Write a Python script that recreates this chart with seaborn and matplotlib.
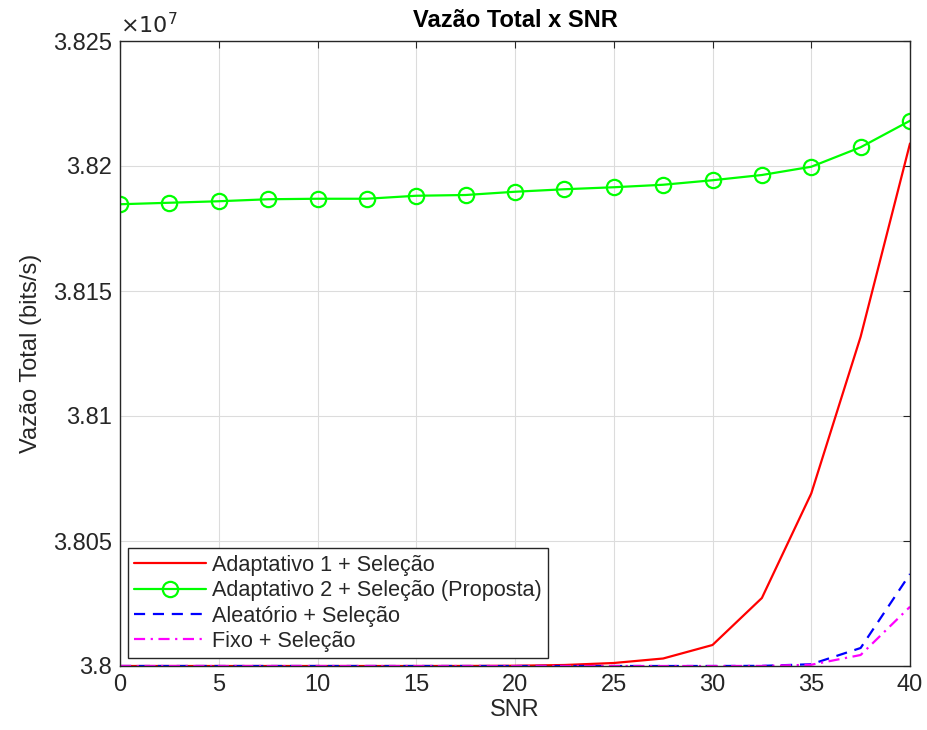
import matplotlib
matplotlib.use("Agg")
import matplotlib.pyplot as plt
import matplotlib.ticker as mticker
import seaborn as sns
import pandas as pd

snr = [0, 2.5, 5, 7.5, 10, 12.5, 15, 17.5, 20, 22.5, 25, 27.5, 30, 32.5, 35, 37.5, 40]
adapt1 = [38000000, 38000000, 38000000, 38000000, 38000000, 38000000, 38000000, 38000020,
          38000100, 38000400, 38001200, 38003000, 38008400, 38027200, 38069000, 38131700, 38209000]
adapt2 = [38184700, 38185300, 38185900, 38186700, 38186900, 38186900, 38188100, 38188400,
          38189700, 38190700, 38191500, 38192500, 38194300, 38196400, 38199700, 38207500, 38218100]
aleat = [38000000, 38000000, 38000000, 38000000, 38000000, 38000000, 38000000, 38000000,
         38000000, 38000000, 38000000, 38000000, 38000000, 38000050, 38000700, 38007200, 38036800]
fixo = [38000000, 38000000, 38000000, 38000000, 38000000, 38000000, 38000000, 38000000,
        38000000, 38000000, 38000000, 38000000, 38000000, 38000030, 38000500, 38004400, 38023700]

labels = ["Adaptativo 1 + Seleção", "Adaptativo 2 + Seleção (Proposta)",
          "Aleatório + Seleção", "Fixo + Seleção"]
colors = ["#FF0000", "#00FF00", "#0000FF", "#FF00FF"]

sns.set_theme(style="whitegrid")
plt.rcParams['font.family'] = ['Liberation Sans', 'DejaVu Sans']

fig = plt.figure(figsize=(9.28, 7.30), dpi=100)
ax = fig.add_axes([120/928, 1-666/730, 790/928, 625/730])

series = [adapt1, adapt2, aleat, fixo]
styles = [dict(linestyle="-"),
          dict(linestyle="-", marker="o", markersize=11, markerfacecolor="none",
               markeredgecolor=colors[1], markeredgewidth=1.6),
          dict(linestyle=(0, (5, 3.5))),
          dict(linestyle=(0, (5, 2.5, 1, 2.5)))]
for vals, lab, col, st in zip(series, labels, colors, styles):
    df = pd.DataFrame({"SNR": snr, "v": vals})
    sns.lineplot(data=df, x="SNR", y="v", ax=ax, color=col, linewidth=1.6,
                 label=lab, **st)

ax.set_xlim(0, 40)
ax.set_ylim(3.8e7, 3.825e7)
ax.set_xticks(range(0, 41, 5))
ax.set_yticks([3.8e7, 3.805e7, 3.81e7, 3.815e7, 3.82e7, 3.825e7])
ax.yaxis.set_major_formatter(mticker.FuncFormatter(lambda v, p: f"{round(v/1e7, 4):g}"))
ax.tick_params(axis="both", labelsize=17, colors="#262626", direction="in",
               length=5, width=0.8, top=True, right=True, pad=6)
ax.tick_params(axis="both", labelcolor="#262626")
ax.grid(True, color="#DCDCDC", linewidth=0.8)
for s in ax.spines.values():
    s.set_color("#262626")
    s.set_linewidth(1.0)
ax.set_facecolor("white")

ax.set_xlabel("SNR", fontsize=17, color="#262626", labelpad=2)
ax.set_ylabel("Vazão Total (bits/s)", fontsize=17, color="#262626", labelpad=8)
ax.set_title("Vazão Total x SNR", fontsize=17, fontweight="bold", color="black", pad=10)
ax.text(0.0, 1.005, r"$\times10^{7}$", transform=ax.transAxes, fontsize=16,
        color="#262626", ha="left", va="bottom")

leg = ax.legend(loc="lower left", bbox_to_anchor=(0.0, 0.0), fontsize=15.6,
                frameon=True, fancybox=False, framealpha=1, edgecolor="#262626",
                handlelength=3.3, labelspacing=0.2, borderpad=0.3,
                handletextpad=0.3, borderaxespad=0.35)
leg.get_frame().set_linewidth(1.0)
for t in leg.get_texts():
    t.set_color("#262626")

fig.savefig("out.png", dpi=100, facecolor="white")
